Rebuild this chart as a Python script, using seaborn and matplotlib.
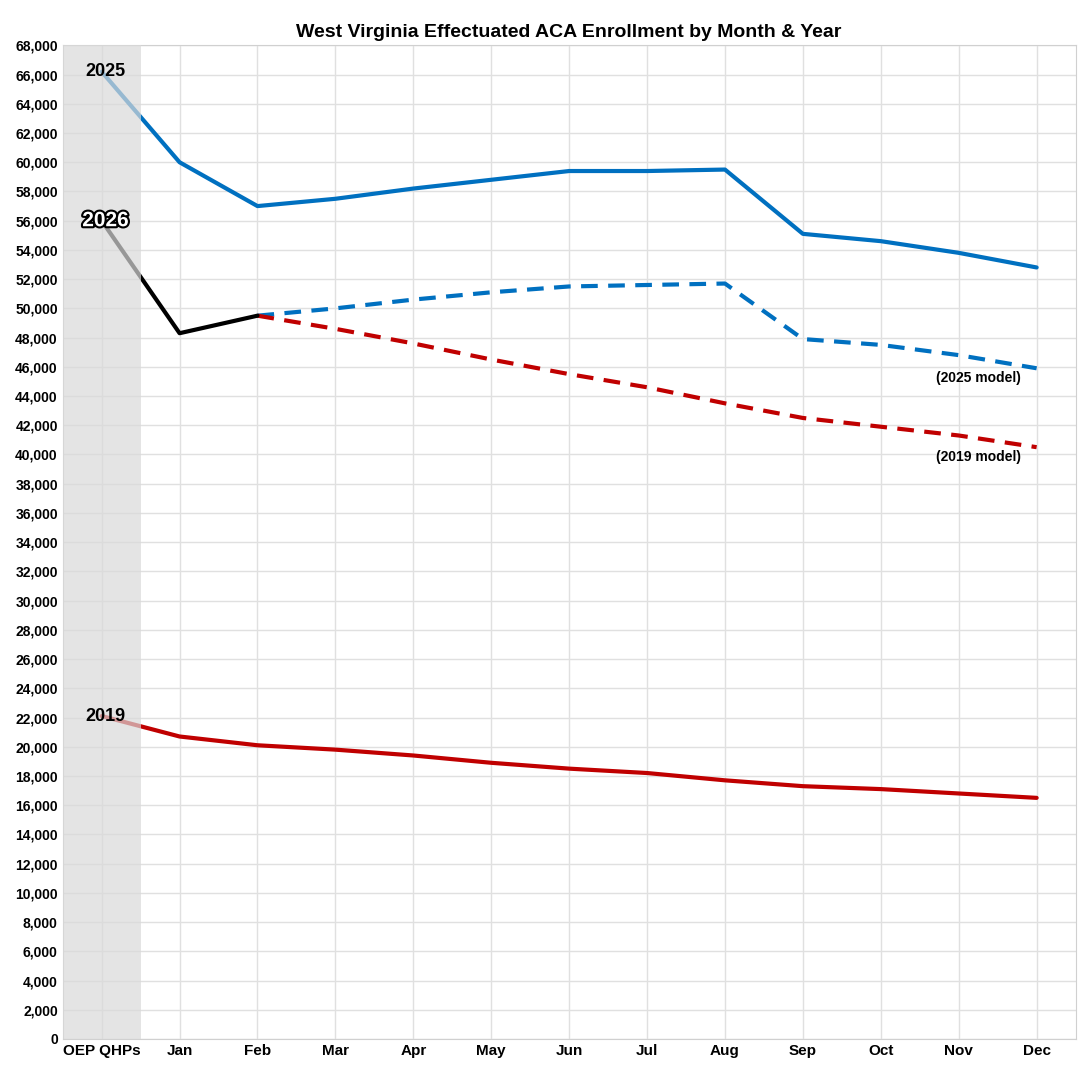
import numpy as np
import pandas as pd
import matplotlib.pyplot as plt
import seaborn as sns
import matplotlib.patheffects as pe

# 1. DATA
months = ['OEP QHPs', 'Jan', 'Feb', 'Mar', 'Apr', 'May', 'Jun', 'Jul', 'Aug', 'Sep', 'Oct', 'Nov', 'Dec']
y2025 = [66200, 60000, 57000, 57500, 58200, 58800, 59400, 59400, 59500, 55100, 54600, 53800, 52800]
y2019 = [22100, 20700, 20100, 19800, 19400, 18900, 18500, 18200, 17700, 17300, 17100, 16800, 16500]
y2026 = [56000, 48300, 49500] + [np.nan] * 10
m2025 = [np.nan, np.nan, 49500, 50000, 50600, 51100, 51500, 51600, 51700, 47900, 47500, 46800, 45900]
m2019 = [np.nan, np.nan, 49500, 48600, 47600, 46500, 45500, 44600, 43500, 42500, 41900, 41300, 40500]

df = pd.DataFrame({'x': range(len(months)), '2025': y2025, '2019': y2019, '2026': y2026,
                   '2025m': m2025, '2019m': m2019})

# 2. PLOT
sns.set_style('white')
plt.rcParams['font.family'] = ['Liberation Sans', 'DejaVu Sans']
plt.rcParams['text.color'] = 'black'
plt.rcParams['xtick.color'] = 'black'
plt.rcParams['ytick.color'] = 'black'
fig, ax = plt.subplots(figsize=(10.81, 10.8), dpi=100)

sns.lineplot(data=df, x='x', y='2025', color='#0070C0', lw=3, ax=ax)
sns.lineplot(data=df, x='x', y='2019', color='#C00000', lw=3, ax=ax)
sns.lineplot(data=df, x='x', y='2025m', color='#0070C0', lw=3, ls=(0, (4, 2.5)), ax=ax)
sns.lineplot(data=df, x='x', y='2019m', color='#C00000', lw=3, ls=(0, (4, 2.5)), ax=ax)
sns.lineplot(data=df, x='x', y='2026', color='black', lw=3, ax=ax)

ax.axvspan(-0.5, 0.5, color='#D9D9D9', alpha=0.7, zorder=5, lw=0)  # shaded OEP column

ax.text(0.05, 66200, '2025', ha='center', va='center', fontsize=13, fontweight='bold', zorder=6)
ax.text(0.05, 56000, '2026', ha='center', va='center', fontsize=15, fontweight='bold', color='white', zorder=6,
        path_effects=[pe.withStroke(linewidth=3, foreground='black')])
ax.text(0.05, 22100, '2019', ha='center', va='center', fontsize=13, fontweight='bold', zorder=6)
ax.text(11.8, 45700, '(2025 model)', ha='right', va='top', fontsize=10, fontweight='bold')
ax.text(11.8, 40300, '(2019 model)', ha='right', va='top', fontsize=10, fontweight='bold')

ax.set_xlim(-0.5, 12.5)
ax.set_ylim(0, 68000)
ax.set_xticks(range(len(months)))
ax.set_xticklabels(months, fontweight='bold', fontsize=11)
ax.set_yticks(range(0, 68001, 2000))
ax.set_yticklabels([f'{v:,}' for v in range(0, 68001, 2000)], fontweight='bold', fontsize=10)
ax.grid(True, color='#E0E0E0', lw=1)
ax.tick_params(length=0)
for s in ax.spines.values():
    s.set_color('#D0D0D0')
ax.set_xlabel('')
ax.set_ylabel('')
ax.set_title('West Virginia Effectuated ACA Enrollment by Month & Year', fontweight='bold', fontsize=14)
plt.subplots_adjust(left=0.058, right=0.995, top=0.958, bottom=0.038)
plt.savefig('out.png')
